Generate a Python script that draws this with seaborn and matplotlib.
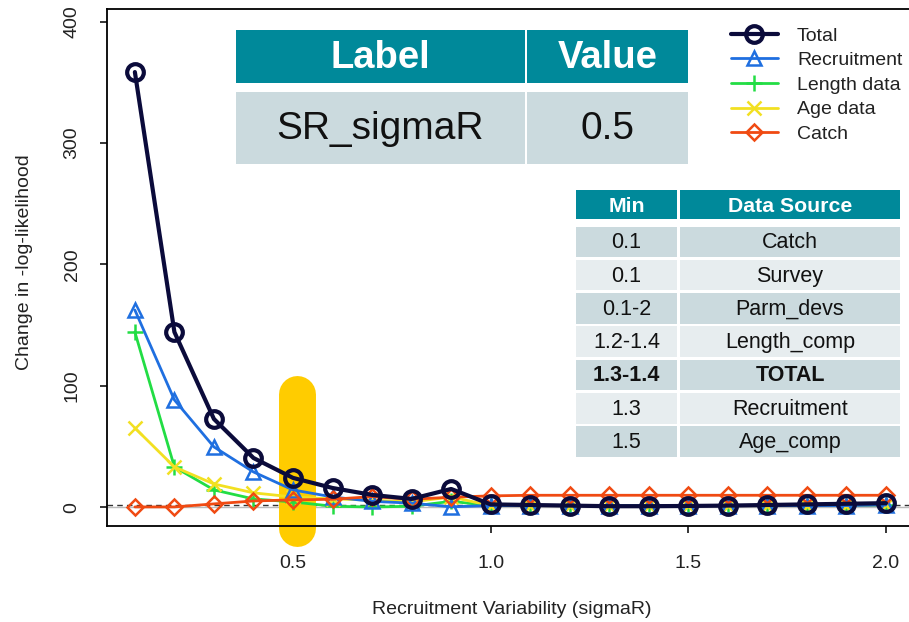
import matplotlib
matplotlib.use("Agg")
import matplotlib.pyplot as plt
from matplotlib.patches import Rectangle
import seaborn as sns
import pandas as pd

# ---------------- data ----------------
sigmaR = [0.1, 0.2, 0.3, 0.4, 0.5, 0.6, 0.7, 0.8, 0.9, 1.0,
          1.1, 1.2, 1.3, 1.4, 1.5, 1.6, 1.7, 1.8, 1.9, 2.0]
total = [358.4, 144.4, 72.8, 40.7, 24.3, 16.0, 10.3, 7.0, 15.2, 2.5,
         2.0, 1.5, 1.0, 1.0, 1.2, 1.5, 2.0, 2.5, 3.0, 3.5]
recruitment = [162.5, 88.5, 49.8, 29.2, 14.4, 8.6, 5.0, 3.5, 0.5, 1.5,
               1.5, 1.5, 1.5, 1.5, 1.5, 1.5, 1.5, 1.5, 1.5, 2.0]
length_data = [144.4, 33.3, 14.4, 7.0, 4.5, 1.0, 0.3, 1.0, 5.0, 1.5,
               1.5, 1.5, 1.5, 1.5, 1.5, 1.5, 1.5, 1.5, 1.5, 2.0]
age_data = [65.4, 33.3, 19.3, 12.0, 8.6, 7.0, 6.0, 4.5, 8.6, 1.5,
            1.5, 1.5, 1.5, 1.5, 1.5, 1.5, 1.5, 1.5, 1.5, 2.0]
catch = [0.4, 0.4, 2.9, 5.3, 6.2, 6.7, 8.9, 6.7, 8.4, 9.5,
         10.0, 10.0, 10.0, 10.0, 10.0, 10.0, 10.0, 10.0, 10.0, 10.0]

series_names = ["Total", "Recruitment", "Length data", "Age data", "Catch"]
series_values = [total, recruitment, length_data, age_data, catch]

threshold = 1.92
highlight_x = 0.5
highlight_range = [-17.0, 93.6]

x_ticks = [0.5, 1.0, 1.5, 2.0]
y_ticks = [0, 100, 200, 300, 400]

table1_header = ["Label", "Value"]
table1_row = ["SR_sigmaR", "0.5"]

table2_header = ["Min", "Data Source"]
table2_min = ["0.1", "0.1", "0.1-2", "1.2-1.4", "1.3-1.4", "1.3", "1.5"]
table2_source = ["Catch", "Survey", "Parm_devs", "Length_comp", "TOTAL",
                 "Recruitment", "Age_comp"]
table2_bold_row = "TOTAL"

# ---------------- style ----------------
sns.set_theme(style="white")
plt.rcParams["font.family"] = ["Liberation Sans", "DejaVu Sans"]

W, H = 909, 622
fig = plt.figure(figsize=(W / 100, H / 100), dpi=100)
fig.patch.set_facecolor("white")


def fx(px):
    return px / W


def fy(py):
    return 1 - py / H


ax = fig.add_axes([fx(107), fy(526), fx(916) - fx(107), fy(9) - fy(526)])

colors = ["#0b0b3b", "#1f6fe0", "#22dd44", "#f2e021", "#f04a12"]
markers = ["o", "^", "+", "x", "D"]
msizes = [12, 10, 12, 10, 8]
lws = [3.0, 2.0, 2.0, 2.0, 2.0]
mews = [3.0, 1.8, 1.8, 1.8, 1.8]

# highlight bar (behind lines)
ax.plot([highlight_x + 0.011, highlight_x + 0.011], highlight_range,
        color="#ffcc00", lw=26.6, solid_capstyle="round", zorder=1.5,
        clip_on=False)

ax.axhline(0, color="#bbbbbb", lw=1.0, zorder=1)
ax.axhline(threshold, color="#333333", lw=1.0, ls=(0, (4, 3)), zorder=1.2)

order_z = [5, 4, 3, 3.5, 4.5]
for name, vals, c, m, ms, lw, mew, z in zip(series_names, series_values, colors,
                                            markers, msizes, lws, mews, order_z):
    df = pd.DataFrame({"sigmaR": sigmaR, "nll": vals})
    sns.lineplot(data=df, x="sigmaR", y="nll", ax=ax, color=c, lw=lw,
                 marker=m, markersize=ms, markerfacecolor="none",
                 markeredgecolor=c, markeredgewidth=mew, label=name,
                 zorder=z, clip_on=False)

ax.set_xlim(0.0295, 2.076)
ax.set_ylim(-15.3, 410.3)
ax.set_xticks(x_ticks)
ax.set_xticklabels([f"{v:.1f}" for v in x_ticks])
ax.set_yticks(y_ticks)
ax.set_yticklabels([str(v) for v in y_ticks], rotation=90, va="center")
ax.tick_params(axis="both", which="both", direction="out", length=5,
               width=1.1, color="black", labelsize=14, labelcolor="#222222",
               bottom=True, left=True)
ax.tick_params(axis="x", pad=16)
ax.tick_params(axis="y", pad=14)
for s in ax.spines.values():
    s.set_color("black")
    s.set_linewidth(1.3)
ax.set_xlabel("")
ax.set_ylabel("")
fig.text(fx(512), fy(609), "Recruitment Variability (sigmaR)", ha="center",
         va="center", fontsize=14, color="#222222")
fig.text(fx(25), fy(262), "Change in -log-likelihood", ha="center",
         va="center", rotation=90, fontsize=14, color="#222222")

# legend
if ax.get_legend():
    ax.get_legend().remove()
handles, labels = ax.get_legend_handles_labels()
fig.legend(handles, labels, loc="upper left",
           bbox_to_anchor=(fx(731), fy(27)), frameon=False, fontsize=14,
           handlelength=2.4, handletextpad=1.0, labelspacing=0.36,
           borderpad=0, borderaxespad=0, labelcolor="#222222")

# ---------------- tables ----------------
TEAL = "#00899a"
DARK = "#cbdade"
LIGHT = "#e7edef"


def cell(x0, y0, x1, y1, color):
    fig.add_artist(Rectangle((fx(x0), fy(y1)), fx(x1) - fx(x0), fy(y0) - fy(y1),
                             transform=fig.transFigure, facecolor=color,
                             edgecolor="none", zorder=20))


def ctext(x, y, s, size, bold=False, color="#111111"):
    fig.text(fx(x), fy(y), s, ha="center", va="center", fontsize=size,
             fontweight="bold" if bold else "normal", color=color,
             family=["Liberation Sans", "DejaVu Sans"], zorder=21)


# table 1
t1_cols = [(236, 525), (527, 688)]
for (a, b), txt in zip(t1_cols, table1_header):
    cell(a, 30, b, 83, TEAL)
    ctext((a + b) / 2, 58, txt, 27.5, bold=True, color="white")
for (a, b), txt in zip(t1_cols, table1_row):
    cell(a, 92, b, 164, DARK)
    ctext((a + b) / 2, 129, txt, 28)

# table 2
t2_cols = [(576, 677), (680, 900)]
for (a, b), txt in zip(t2_cols, table2_header):
    cell(a, 190, b, 219, TEAL)
    ctext((a + b) / 2, 206, txt, 15.3, bold=True, color="white")
for i, (mn, src) in enumerate(zip(table2_min, table2_source)):
    top = 226.5 + i * 33.3
    bot = top + 30.5
    col = DARK if i % 2 == 0 else LIGHT
    bold = src == table2_bold_row
    for (a, b), txt in zip(t2_cols, [mn, src]):
        cell(a, top, b, bot, col)
        ctext((a + b) / 2, (top + bot) / 2 + 1, txt, 15.5, bold=bold)

fig.savefig("out.png", dpi=100)
